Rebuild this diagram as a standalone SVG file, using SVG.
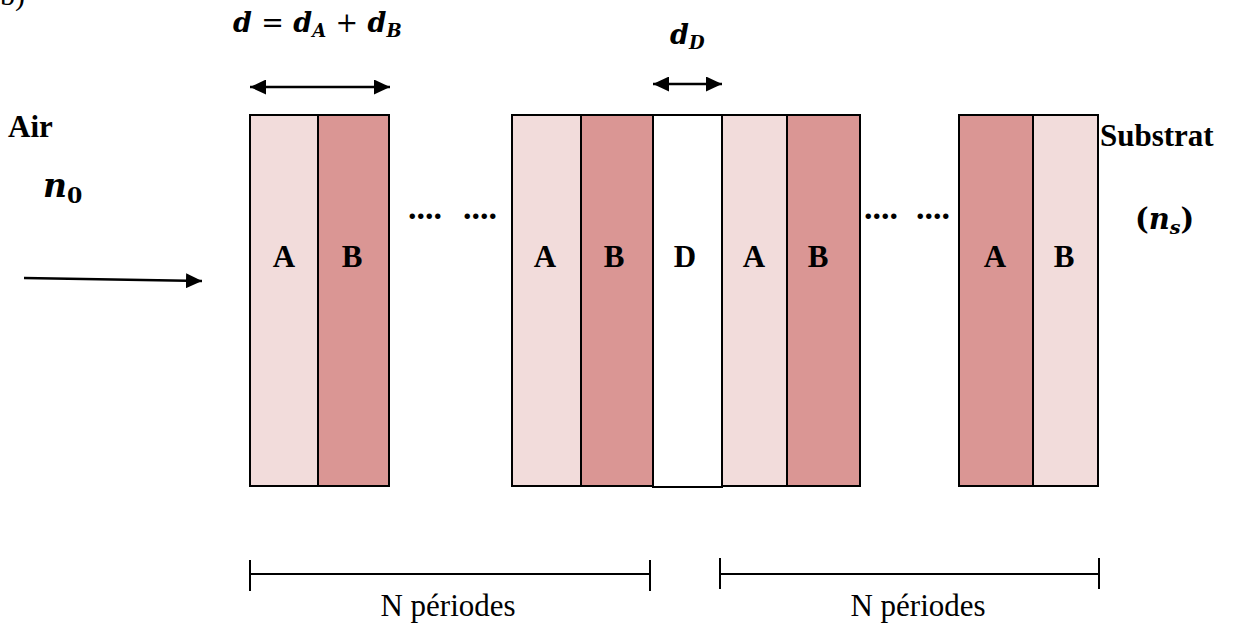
<svg xmlns="http://www.w3.org/2000/svg" width="1234" height="628" viewBox="0 0 1234 628">
<style>
.lA{fill:#F2DCDB;stroke:#000;stroke-width:2}
.lB{fill:#DA9694;stroke:#000;stroke-width:2}
.lD{fill:#FFFFFF;stroke:#000;stroke-width:2}
.lbl{font-family:"Liberation Serif",serif;font-weight:bold;font-size:31px;text-anchor:middle;fill:#000}
.txt{font-family:"Liberation Serif",serif;font-weight:bold;font-size:31px;fill:#000}
.math{font-family:"DejaVu Serif",serif;font-weight:bold;font-style:italic;fill:#000}
.reg{font-family:"Liberation Serif",serif;font-size:31px;fill:#000;text-anchor:middle}
.dots{font-family:"Liberation Serif",serif;font-weight:bold;font-size:34px;fill:#000}
.ln{stroke:#000;stroke-width:2.5;fill:none}
.br{stroke:#000;stroke-width:2;fill:none}
</style>
<defs>
<marker id="ah" viewBox="0 0 16 15" refX="16" refY="7.5" markerWidth="16" markerHeight="15" markerUnits="userSpaceOnUse" orient="auto-start-reverse">
<path d="M0,0 L16,7.5 L0,15 z" fill="#000"/>
</marker>
</defs>
<rect width="1234" height="628" fill="#fff"/>
<text x="0" y="5" class="reg" style="text-anchor:start;font-size:30px">b)</text>

<g id="labels-left">
<text x="8" y="137" class="txt">Air</text>
<text x="43" y="197" class="math" style="font-size:33px">n<tspan font-size="22" dy="6" style="font-style:normal">0</tspan></text>
</g>
<g id="labels-right">
<text x="1100" y="146" class="txt">Substrat</text>
<text x="1135" y="229" class="math" style="font-size:29px;font-style:normal">(<tspan style="font-style:italic">n</tspan><tspan font-size="19" dy="5" style="font-style:italic">s</tspan><tspan dy="-5">)</tspan></text>
</g>
<g id="dim-labels">
<text x="233" y="32" class="math" style="font-size:27px">d <tspan style="font-style:normal;font-weight:normal">=</tspan> d<tspan font-size="18" dy="5">A</tspan><tspan dy="-5"> <tspan style="font-style:normal;font-weight:normal">+</tspan> d</tspan><tspan font-size="18" dy="5">B</tspan></text>
<text x="670" y="44" class="math" style="font-size:27px">d<tspan font-size="18" dy="5">D</tspan></text>
</g>

<g id="period1">
<rect id="cell1A" class="lA" x="250" y="115" width="68" height="371"/>
<rect id="cell1B" class="lB" x="318" y="115" width="71" height="371"/>
<text class="lbl" x="284" y="267">A</text>
<text class="lbl" x="352" y="267">B</text>
</g>
<g id="period2">
<rect id="cell2A" class="lA" x="512" y="115" width="69" height="371"/>
<rect id="cell2B" class="lB" x="581" y="115" width="72" height="371"/>
<text class="lbl" x="545" y="267">A</text>
<text class="lbl" x="614" y="267">B</text>
</g>
<g id="defect">
<rect id="cellD" class="lD" x="653" y="115" width="69" height="372"/>
<text class="lbl" x="685" y="267">D</text>
</g>
<g id="period3">
<rect id="cell3A" class="lA" x="722" y="115" width="65" height="371"/>
<rect id="cell3B" class="lB" x="787" y="115" width="73" height="371"/>
<text class="lbl" x="754" y="267">A</text>
<text class="lbl" x="818" y="267">B</text>
</g>
<g id="period4">
<rect id="cell4A" class="lB" x="959" y="115" width="74" height="371"/>
<rect id="cell4B" class="lA" x="1033" y="115" width="65" height="371"/>
<text class="lbl" x="995" y="267">A</text>
<text class="lbl" x="1064" y="267">B</text>
</g>
<g id="ellipses">
<text class="dots" x="408" y="219">....</text>
<text class="dots" x="463" y="219">....</text>
<text class="dots" x="864" y="219">....</text>
<text class="dots" x="916" y="219">....</text>
</g>

<g id="connectors">
<line class="ln" x1="24" y1="278" x2="202" y2="281" marker-end="url(#ah)"/>
<line class="ln" x1="250" y1="87" x2="390" y2="87" marker-start="url(#ah)" marker-end="url(#ah)"/>
<line class="ln" x1="653" y1="84" x2="722" y2="84" marker-start="url(#ah)" marker-end="url(#ah)"/>
<path class="br" d="M250,560 V591 M250,574 H650 M650,560 V591"/>
<path class="br" d="M720,558 V589 M720,574 H1099 M1099,558 V589"/>
</g>
<g id="bracket-labels">
<text class="reg" x="448" y="616">N périodes</text>
<text class="reg" x="918" y="616">N périodes</text>
</g>
</svg>
